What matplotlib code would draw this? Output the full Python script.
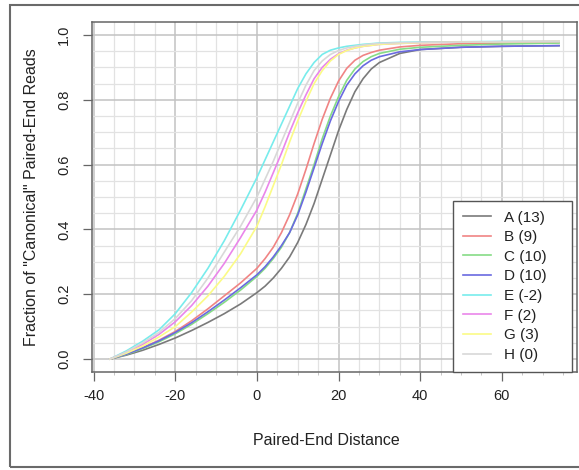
import matplotlib
matplotlib.use("Agg")
import matplotlib.pyplot as plt
from matplotlib.patches import Rectangle
from matplotlib.ticker import MultipleLocator

plt.rcParams['font.family'] = ['Liberation Sans', 'DejaVu Sans']

x_vals = [-36, -32, -28, -24, -20, -16, -12, -8, -4, 0, 2, 4, 6, 8, 10, 12, 14, 16, 18, 20,
          22, 24, 26, 28, 30, 35, 40, 50, 60, 74]

series_names = ["A (13)", "B (9)", "C (10)", "D (10)", "E (-2)", "F (2)", "G (3)", "H (0)"]
series_colors = ["#7a7a7a", "#f08484", "#86dc86", "#6a6ae0", "#78ecec", "#ea86ea", "#fbfb86", "#d8d8d8"]

A = [0, 0.012, 0.027, 0.045, 0.065, 0.088, 0.113, 0.14, 0.17, 0.205, 0.225, 0.25, 0.28, 0.315, 0.36,
     0.415, 0.48, 0.555, 0.63, 0.705, 0.77, 0.825, 0.865, 0.895, 0.915, 0.943, 0.955, 0.962, 0.965, 0.967]
B = [0, 0.016, 0.035, 0.058, 0.085, 0.118, 0.155, 0.195, 0.235, 0.28, 0.31, 0.345, 0.39, 0.445, 0.51,
     0.585, 0.665, 0.74, 0.805, 0.858, 0.897, 0.922, 0.937, 0.946, 0.953, 0.963, 0.968, 0.973, 0.975, 0.977]
C = [0, 0.014, 0.032, 0.053, 0.078, 0.107, 0.14, 0.175, 0.213, 0.255, 0.28, 0.31, 0.345, 0.39, 0.45,
     0.525, 0.60, 0.68, 0.75, 0.81, 0.86, 0.895, 0.918, 0.933, 0.943, 0.956, 0.962, 0.968, 0.972, 0.975]
D = [0, 0.015, 0.034, 0.056, 0.082, 0.112, 0.146, 0.182, 0.22, 0.26, 0.285, 0.315, 0.35, 0.39, 0.445,
     0.515, 0.59, 0.665, 0.735, 0.795, 0.845, 0.88, 0.905, 0.922, 0.933, 0.948, 0.955, 0.962, 0.965, 0.967]
E = [0, 0.025, 0.055, 0.09, 0.14, 0.205, 0.28, 0.365, 0.46, 0.56, 0.615, 0.67, 0.725, 0.78, 0.835,
     0.88, 0.915, 0.94, 0.953, 0.96, 0.965, 0.968, 0.971, 0.973, 0.975, 0.977, 0.978, 0.979, 0.98, 0.98]
F = [0, 0.02, 0.045, 0.076, 0.115, 0.165, 0.225, 0.295, 0.375, 0.46, 0.515, 0.575, 0.635, 0.70, 0.76,
     0.815, 0.865, 0.90, 0.925, 0.942, 0.953, 0.96, 0.965, 0.968, 0.971, 0.974, 0.976, 0.978, 0.979, 0.98]
G = [0, 0.018, 0.04, 0.068, 0.10, 0.145, 0.195, 0.255, 0.325, 0.41, 0.47, 0.535, 0.60, 0.67, 0.735,
     0.795, 0.85, 0.89, 0.92, 0.94, 0.952, 0.96, 0.965, 0.968, 0.971, 0.974, 0.976, 0.978, 0.979, 0.98]
H = [0, 0.022, 0.05, 0.082, 0.125, 0.18, 0.25, 0.33, 0.41, 0.50, 0.555, 0.61, 0.67, 0.73, 0.79,
     0.845, 0.89, 0.92, 0.94, 0.952, 0.96, 0.965, 0.969, 0.972, 0.974, 0.976, 0.977, 0.978, 0.979, 0.98]

series_values = [A, B, C, D, E, F, G, H]

x_ticks = [-40, -20, 0, 20, 40, 60]
y_ticks = [0.0, 0.2, 0.4, 0.6, 0.8, 1.0]

W, Hh = 579, 470
fig = plt.figure(figsize=(W / 100, Hh / 100), dpi=100)
fig.patch.set_facecolor("white")

# outer frame
fig.patches.append(Rectangle((10 / W, 3 / Hh), 1.2, (467 - 5) / Hh, transform=fig.transFigure,
                             fill=False, edgecolor="#6a6a6a", linewidth=1.5, zorder=0))

ax_left, ax_right, ax_top, ax_bottom = 92, 577, 22, 372
ax = fig.add_axes([ax_left / W, (Hh - ax_bottom) / Hh, (ax_right - ax_left) / W, (ax_bottom - ax_top) / Hh])
ax.set_xlim(-40.4, 78.4)
ax.set_ylim(-0.04, 1.04)

ax.xaxis.set_minor_locator(MultipleLocator(5))
ax.yaxis.set_minor_locator(MultipleLocator(0.05))
ax.grid(which="minor", color="#e2e2e2", linewidth=0.9, zorder=0)
ax.grid(which="major", color="#c2c2c2", linewidth=1.1, zorder=0)
ax.set_axisbelow(True)

for vals, col, name in zip(series_values, series_colors, series_names):
    ax.plot(x_vals, vals, color=col, linewidth=1.2, label=name, zorder=2)

ax.set_xticks(x_ticks)
ax.set_xticklabels([str(t) for t in x_ticks])
ax.set_yticks(y_ticks)
ax.set_yticklabels(["%.1f" % t for t in y_ticks], rotation=90, va="center")
ax.tick_params(axis="both", which="major", direction="out", length=6.5, width=0.9,
               color="#666666", labelsize=10.5, labelcolor="#222222")
ax.tick_params(axis="x", which="major", pad=5.5)
ax.tick_params(axis="y", which="major", pad=8.5)
ax.tick_params(axis="x", which="minor", direction="out", length=2.5, width=0.6, color="#bbbbbb")
ax.tick_params(axis="y", which="minor", length=0)

for sp in ax.spines.values():
    sp.set_color("#666666")
    sp.set_linewidth(1.1)

ax.set_xlabel("Paired-End Distance", fontsize=11.5, color="#222222", labelpad=21)
ax.xaxis.set_label_coords(0.483, -0.175)
ax.set_ylabel('Fraction of "Canonical" Paired-End Reads', fontsize=11.5, color="#222222", labelpad=13)

leg_x0 = (453 - ax_left) / (ax_right - ax_left)
leg_w = (572 - 453) / (ax_right - ax_left)
leg = ax.legend(loc="lower left", bbox_to_anchor=(leg_x0, 0.0, leg_w, 0.6), mode="expand",
                borderaxespad=0, fontsize=11.0, frameon=True, fancybox=False, framealpha=1,
                edgecolor="#555555", handlelength=1.85, handletextpad=0.85, labelspacing=0.37,
                borderpad=0.65)
leg.get_frame().set_linewidth(1.0)
for t in leg.get_texts():
    t.set_color("#222222")

fig.savefig("out.png", dpi=100)
